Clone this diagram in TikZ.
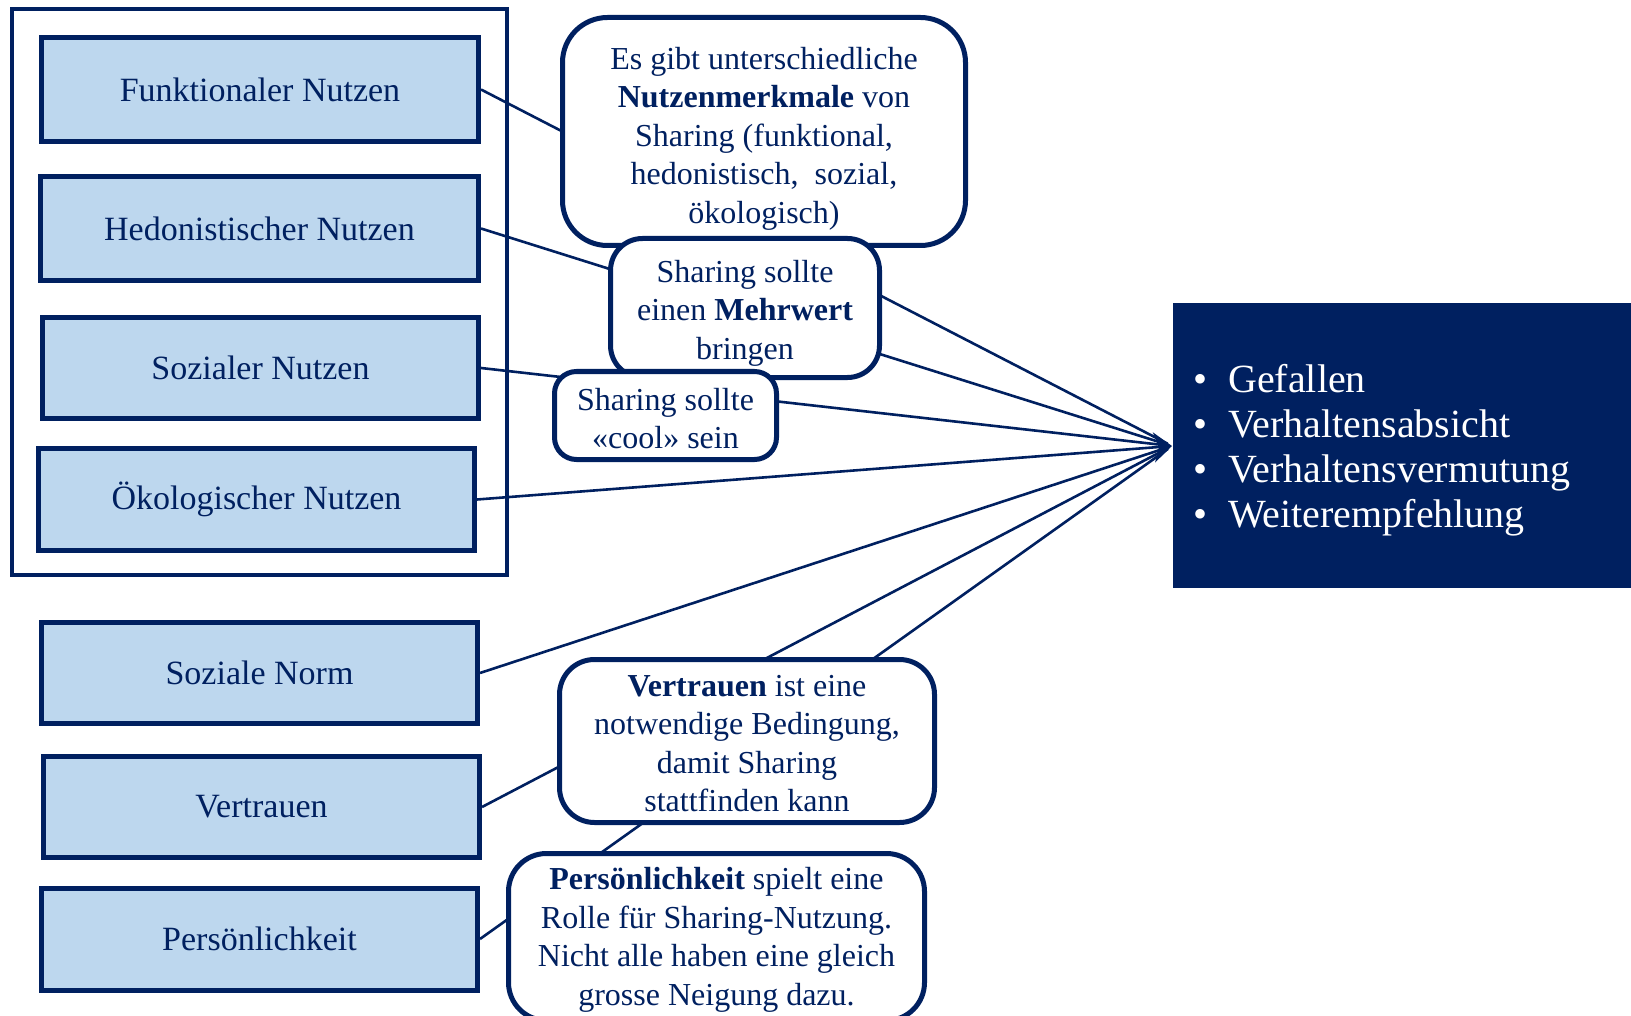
\documentclass[tikz,border=0pt]{standalone}
\usepackage{fontspec}
\setmainfont{Liberation Serif}
\usetikzlibrary{arrows.meta,positioning}
\definecolor{navy}{HTML}{002060}
\definecolor{lightblue}{HTML}{BDD7EE}
\newcommand{\topgap}[1]{\rule{0pt}{#1}}
\tikzset{
  box/.style ={draw=navy,line width=5pt,fill=lightblue,text=navy,inner sep=0pt,
               minimum width=436pt,minimum height=101pt,
               font=\fontsize{34}{40}\selectfont},
  note/.style={draw=navy,line width=5pt,fill=white,text=navy,align=center,
               inner sep=0pt,font=\fontsize{32}{38.5}\selectfont},
  conn/.style={draw=navy,line width=2.6pt},
  item/.style={text=white,anchor=base west,inner sep=0pt,
               font=\fontsize{40}{45}\selectfont},
}

\begin{document}
\begin{tikzpicture}[x=1pt,y=-1pt]
  \path[use as bounding box,clip] (0,0) rectangle (1631,1016);
  \fill[white] (0,0) rectangle (1631,1016);
  \draw[navy,line width=4pt] (12,9) rectangle (507,575);
  \node[box,minimum width=437pt,minimum height=104pt] (fun)  at (260,89.5)  {Funktionaler Nutzen};
  \node[box,minimum width=438pt,minimum height=104pt] (hed)  at (259.5,228.5) {Hedonistischer Nutzen};
  \node[box] (soz)  at (260.5,368)   {Sozialer Nutzen};
  \node[box,minimum height=102pt] (oek)  at (256.5,499.5) {Ökologischer Nutzen};
  \node[box] (norm) at (259.5,673)   {Soziale Norm};
  \node[box] (ver)  at (261.5,807)   {Vertrauen};
  \node[box,minimum height=102pt] (per)  at (259.5,939) {Persönlichkeit};
  \coordinate (tip) at (1172,446);
  \foreach \b in {fun,hed,soz,norm,ver,per}
    \draw[conn,shorten >=5pt] (\b.east) -- (tip);
  \draw[conn,-{Stealth[length=18pt,width=30pt,inset=5pt]}] (oek.east) -- (tip);
  \node[note,rounded corners=45pt,minimum width=403pt,minimum height=228pt] (n1) at (764,131.5)
    {\topgap{36pt}Es gibt unterschiedliche\\\textbf{Nutzenmerkmale} von\\Sharing (funktional,\\hedonistisch,\ \ sozial,\\ökologisch)};
  \node[note,rounded corners=32pt,minimum width=269pt,minimum height=139pt] (n2) at (745,308)
    {\topgap{32pt}Sharing sollte\\einen \textbf{Mehrwert}\\bringen};
  \node[note,rounded corners=22pt,minimum width=222pt,minimum height=88pt] (n3) at (665.5,415.5)
    {\topgap{28pt}Sharing sollte\\«cool» sein};
  \node[note,rounded corners=35pt,minimum width=375pt,minimum height=163pt] (n4) at (747,741)
    {\topgap{26pt}\textbf{Vertrauen} ist eine\\notwendige Bedingung,\\damit Sharing\\stattfinden kann};
  \node[note,rounded corners=38pt,minimum width=416pt,minimum height=167pt] (n5) at (716.5,937)
    {\topgap{28pt}\textbf{Persönlichkeit} spielt eine\\Rolle für Sharing-Nutzung.\\Nicht alle haben eine gleich\\grosse Neigung dazu.};
  \node[fill=navy,inner sep=0pt,minimum width=458pt,minimum height=285pt] (res) at (1402,445.5) {};
  \foreach \t [count=\i] in {Gefallen,Verhaltensabsicht,Verhaltensvermutung,Weiterempfehlung}
    \node[item] (li\i) at (1193,{392+45*(\i-1)}) {\textbullet\hspace{21pt}\t};
\end{tikzpicture}
\end{document}
